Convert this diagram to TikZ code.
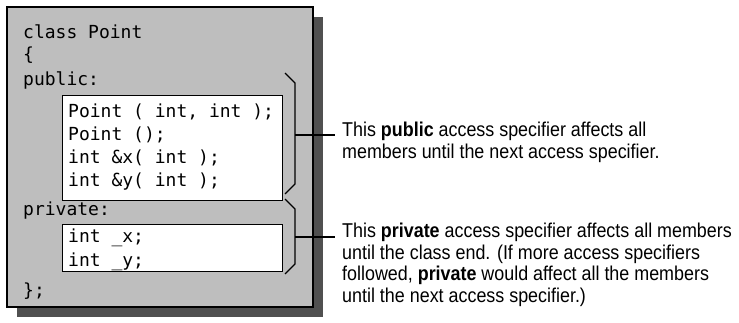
\documentclass[tikz,border=0pt]{standalone}
\usepackage{fontspec}
\setmainfont{Liberation Sans}[FakeStretch=0.895]
\newfontfamily\codefont{DejaVu Sans Mono}
\definecolor{boxgray}{RGB}{190,190,190}
\definecolor{shadowgray}{RGB}{80,80,80}
\tikzset{
  codetxt/.style={anchor=base west, inner sep=0pt, font=\codefont\fontsize{18}{22}\selectfont},
  membox/.style={draw=black, fill=white, line width=1.1pt, anchor=north west, inner sep=0pt},
  bracepath/.style={draw=black, line width=1.1pt, line join=miter},
  leader/.style={draw=black, line width=1.1pt},
  note/.style={anchor=north west, inner sep=0pt, align=left, font=\fontsize{20}{21.5}\selectfont}
}
\begin{document}
\begin{tikzpicture}[x=1pt,y=-1pt]
\useasboundingbox (0,0) rectangle (739,323);
% shadow and main box
\fill[shadowgray] (17,17) rectangle (323,317);
\filldraw[fill=boxgray, draw=black, line width=1.4pt] (7,7) rectangle (313,307);
% member boxes
\node[membox, minimum width=220pt, minimum height=105pt] (pubbox) at (62,95) {};
\node[membox, minimum width=220pt, minimum height=47pt] (privbox) at (62,224) {};
% code text
\node[codetxt] (l1) at (23,39) {class Point};
\node[codetxt] (l2) at (23,61) {\{};
\node[codetxt] (l3) at (23,86) {public:};
\node[codetxt] (l4) at (68,118) {Point ( int, int );};
\node[codetxt] (l5) at (68,141) {Point ();};
\node[codetxt] (l6) at (68,164) {int \&x( int );};
\node[codetxt] (l7) at (68,187) {int \&y( int );};
\node[codetxt] (l8) at (23,216) {private:};
\node[codetxt] (l9) at (68,243) {int \_x;};
\node[codetxt] (l10) at (68,266) {int \_y;};
\node[codetxt] (l11) at (23,296) {\};};
% braces
\draw[bracepath] (285,73) -- (295,83) -- (295,184) -- (285,194);
\draw[bracepath] (285,199) -- (295,209) -- (295,264) -- (285,274);
\coordinate (pubtip) at (295,135);
\coordinate (privtip) at (295,237);
% notes
\node[note] (pubnote) at (342,122) {This \textbf{public} access specifier affects all\\members until the next access specifier.};
\node[note] (privnote) at (342,223) {This \textbf{private} access specifier affects all members\\until the class end. (If more access specifiers\\followed, \textbf{private} would affect all the members\\until the next access specifier.)};
\draw[leader] (pubtip) -- (pubtip -| 335,0);
\draw[leader] (privtip) -- (privtip -| 335,0);
\end{tikzpicture}
\end{document}
